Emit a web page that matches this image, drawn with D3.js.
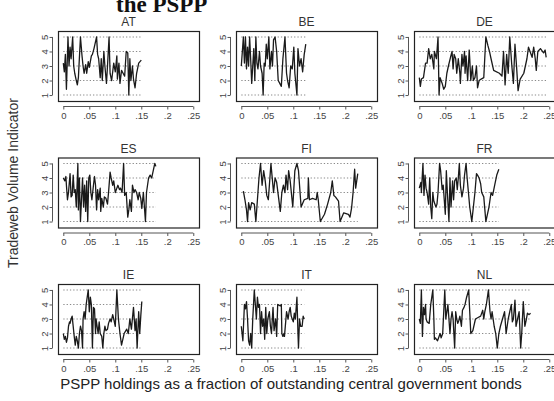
<!DOCTYPE html>
<html><head><meta charset="utf-8">
<script src="https://cdn.jsdelivr.net/npm/d3@7"></script>
<style>body{margin:0;background:#fff} svg{display:block}</style>
</head><body>
<svg id="c" width="554" height="401"></svg>
<script>
const countries = ["AT","BE","DE","ES","FI","FR","IE","IT","NL"];
const xTicks = [0,0.05,0.1,0.15,0.2,0.25];
const xTickLabels = ["0",".05",".1",".15",".2",".25"];
const yTicks = [1,2,3,4,5];
const yTickLabels = ["1","2","3","4","5"];

const atX=[0.000,0.002,0.004,0.006,0.009,0.011,0.013,0.015,0.018,0.020,0.022,0.025,0.027,0.029,0.033,0.036,0.038,0.040,0.043,0.045,0.048,0.050,0.054,0.056,0.059,0.064,0.066,0.068,0.071,0.073,0.075,0.078,0.080,0.083,0.085,0.088,0.090,0.093,0.097,0.100,0.103,0.104,0.107,0.109,0.112,0.115,0.118,0.121,0.124,0.126,0.128,0.130,0.133,0.135,0.138,0.141,0.145,0.150];
const atY=[3.2,2.6,3.8,1.4,5.0,3.0,4.3,3.5,5.0,3.0,2.5,2.0,1.7,2.2,5.0,3.7,3.0,2.5,3.1,2.5,3.3,2.9,3.7,3.8,4.2,5.0,3.8,3.5,2.2,3.5,2.0,4.0,3.0,1.8,3.0,5.0,2.5,2.0,3.2,2.6,3.7,2.1,3.2,1.8,2.7,2.5,2.3,4.0,3.9,1.0,3.5,2.0,3.0,2.1,1.5,2.5,3.2,3.4];

const beX=[0.000,0.002,0.004,0.006,0.008,0.010,0.012,0.014,0.016,0.018,0.020,0.022,0.024,0.026,0.028,0.030,0.032,0.035,0.037,0.040,0.042,0.044,0.046,0.048,0.050,0.053,0.055,0.058,0.060,0.062,0.065,0.068,0.071,0.074,0.077,0.080,0.084,0.087,0.089,0.092,0.095,0.098,0.101,0.103,0.107,0.109,0.112,0.115,0.118,0.121,0.124];
const beY=[3.0,4.0,5.0,3.2,5.0,2.8,4.3,3.0,5.0,3.5,1.8,3.0,4.2,2.0,5.0,3.2,2.8,4.0,3.0,2.5,1.0,3.2,3.0,4.5,3.5,5.0,2.8,4.0,3.0,4.8,5.0,4.0,2.0,1.8,1.6,3.5,5.0,2.5,2.0,1.5,3.0,2.8,4.3,2.5,1.0,4.2,3.0,3.5,2.6,3.8,4.5];

const deX=[0.000,0.002,0.004,0.008,0.012,0.015,0.018,0.021,0.024,0.028,0.029,0.033,0.036,0.038,0.040,0.044,0.047,0.050,0.053,0.056,0.060,0.063,0.065,0.067,0.070,0.072,0.075,0.078,0.079,0.082,0.084,0.087,0.088,0.090,0.093,0.096,0.097,0.099,0.102,0.104,0.107,0.110,0.112,0.115,0.119,0.124,0.128,0.132,0.135,0.138,0.143,0.154,0.159,0.162,0.165,0.168,0.171,0.174,0.178,0.181,0.184,0.187,0.190,0.194,0.201,0.204,0.207,0.210,0.213,0.217,0.220,0.223,0.225,0.228,0.233,0.239,0.242,0.244];
const deY=[2.2,1.6,2.1,2.2,3.2,3.2,4.2,3.5,3.8,2.8,4.0,3.5,5.0,1.0,2.2,1.8,1.4,1.6,2.5,3.0,3.6,4.0,2.8,3.8,3.5,2.5,3.5,2.5,1.8,3.8,3.0,4.0,2.5,3.7,2.0,4.1,3.5,2.0,3.0,2.0,2.2,3.0,1.5,2.0,2.1,2.2,5.0,4.4,4.0,3.5,2.7,2.5,2.3,4.0,1.7,3.8,2.5,5.0,3.0,1.8,4.5,3.0,1.3,2.1,2.5,3.0,3.5,4.3,4.0,3.6,4.3,3.5,2.7,4.0,4.2,3.9,4.1,3.6];

const esX=[0.000,0.003,0.005,0.006,0.008,0.010,0.013,0.015,0.017,0.019,0.021,0.023,0.025,0.028,0.029,0.031,0.033,0.035,0.037,0.039,0.041,0.043,0.045,0.047,0.049,0.051,0.053,0.055,0.058,0.060,0.062,0.064,0.066,0.068,0.071,0.072,0.074,0.077,0.079,0.082,0.085,0.087,0.090,0.092,0.095,0.097,0.100,0.103,0.105,0.108,0.110,0.113,0.116,0.118,0.121,0.124,0.126,0.128,0.131,0.133,0.136,0.138,0.141,0.144,0.146,0.149,0.151,0.154,0.158,0.160,0.164,0.167,0.170,0.173,0.176,0.178];
const esY=[4.0,3.8,4.1,3.5,2.5,3.0,4.3,2.7,2.8,4.2,3.0,3.2,2.0,5.0,1.8,4.0,1.0,2.5,4.0,2.0,3.5,1.7,3.8,1.0,4.0,4.2,3.0,2.5,3.5,4.1,3.5,1.8,3.2,2.5,3.3,1.7,2.6,2.0,2.7,2.6,2.2,3.0,4.4,4.0,3.5,3.8,3.0,3.3,3.5,3.2,3.3,3.0,5.0,2.8,3.0,1.3,1.8,2.5,1.7,3.5,3.0,3.2,3.0,2.5,3.0,2.6,1.9,3.0,1.0,3.0,4.0,4.2,4.0,4.5,5.0,4.8];

const fiX=[0.004,0.007,0.010,0.012,0.014,0.017,0.020,0.025,0.028,0.031,0.034,0.037,0.040,0.043,0.046,0.049,0.052,0.055,0.057,0.059,0.062,0.065,0.068,0.075,0.078,0.081,0.084,0.086,0.089,0.091,0.094,0.099,0.103,0.107,0.110,0.115,0.121,0.128,0.129,0.131,0.137,0.144,0.146,0.148,0.152,0.160,0.166,0.172,0.175,0.178,0.181,0.187,0.190,0.197,0.206,0.209,0.212,0.215,0.218,0.220,0.222,0.224];
const fiY=[3.1,2.5,1.8,1.0,2.3,1.8,2.3,2.2,1.0,2.5,4.0,5.0,3.5,4.5,3.8,2.8,2.5,4.0,5.0,4.2,3.0,4.0,3.7,1.7,3.0,3.5,3.0,4.2,3.2,4.5,3.8,2.0,4.5,5.0,4.5,2.0,2.5,2.6,4.0,2.5,2.6,2.5,3.0,2.5,1.0,1.5,2.2,3.0,3.8,2.8,2.7,2.4,1.0,1.6,1.5,1.3,1.9,3.0,4.6,3.3,3.8,4.3];

const frX=[0.000,0.003,0.004,0.007,0.009,0.011,0.013,0.015,0.018,0.020,0.022,0.024,0.026,0.028,0.032,0.034,0.036,0.039,0.041,0.044,0.046,0.048,0.050,0.052,0.054,0.057,0.059,0.061,0.064,0.066,0.068,0.071,0.073,0.075,0.077,0.079,0.082,0.085,0.087,0.090,0.092,0.097,0.101,0.104,0.107,0.110,0.112,0.115,0.118,0.120,0.124,0.128,0.131,0.134,0.138,0.141,0.145,0.149,0.153];
const frY=[3.3,3.7,3.0,5.0,2.8,4.2,3.3,3.0,2.2,4.0,2.0,1.2,3.0,2.4,2.0,2.2,3.0,5.0,4.5,3.2,3.5,2.5,1.5,4.5,3.0,1.0,4.0,2.0,3.8,2.5,3.8,4.0,3.2,4.0,5.0,3.5,2.7,3.3,4.2,5.0,4.0,2.0,1.0,2.0,3.0,4.3,4.2,4.0,3.6,3.0,2.7,1.0,1.5,2.0,3.0,2.8,3.5,4.2,4.6];

const ieX=[0.000,0.002,0.004,0.006,0.008,0.010,0.012,0.013,0.015,0.017,0.019,0.021,0.023,0.025,0.027,0.029,0.031,0.033,0.035,0.037,0.038,0.040,0.042,0.044,0.046,0.048,0.050,0.052,0.054,0.056,0.058,0.060,0.062,0.063,0.065,0.067,0.069,0.071,0.074,0.076,0.078,0.080,0.082,0.085,0.087,0.090,0.092,0.095,0.097,0.100,0.103,0.106,0.109,0.112,0.117,0.122,0.125,0.128,0.131,0.135,0.138,0.140,0.142,0.145,0.147,0.149,0.151];
const ieY=[2.0,1.6,1.8,1.4,1.7,2.5,2.8,2.7,3.0,3.2,2.5,1.8,1.2,1.8,1.5,1.0,2.0,2.5,2.2,1.0,3.0,3.5,3.0,4.0,4.5,5.0,3.5,4.5,4.0,1.0,3.8,3.7,2.0,3.0,2.5,2.0,2.8,2.0,1.8,1.0,2.0,2.5,2.2,2.3,2.7,3.0,2.8,3.3,3.0,2.5,5.0,3.0,2.0,1.2,2.0,2.3,2.0,3.0,2.3,3.8,2.2,3.0,1.0,3.5,2.0,3.2,4.2];

const itX=[0.000,0.003,0.006,0.008,0.010,0.012,0.014,0.016,0.018,0.020,0.022,0.025,0.027,0.029,0.031,0.033,0.035,0.037,0.039,0.041,0.043,0.045,0.047,0.049,0.051,0.054,0.056,0.058,0.061,0.063,0.066,0.068,0.070,0.075,0.077,0.078,0.080,0.082,0.083,0.087,0.090,0.092,0.094,0.096,0.100,0.102,0.104,0.107,0.109,0.110,0.112,0.114,0.117,0.119,0.121];
const itY=[2.5,1.5,4.0,3.7,4.2,3.0,1.5,1.2,2.0,1.0,3.0,5.0,4.0,3.0,4.5,3.8,4.0,2.0,3.5,2.5,3.0,1.6,3.8,2.0,3.0,3.5,2.5,2.0,3.8,2.2,3.0,1.8,4.0,3.9,4.0,2.0,1.8,2.0,1.8,3.5,3.0,3.5,3.8,3.2,2.8,3.4,3.0,4.5,2.0,1.0,3.0,2.5,2.5,3.2,3.0];

const nlX=[0.000,0.002,0.004,0.006,0.008,0.010,0.012,0.013,0.015,0.019,0.022,0.026,0.028,0.029,0.031,0.035,0.038,0.040,0.042,0.045,0.049,0.051,0.053,0.055,0.057,0.059,0.061,0.063,0.065,0.068,0.070,0.072,0.074,0.076,0.078,0.081,0.083,0.086,0.088,0.091,0.095,0.099,0.103,0.108,0.113,0.118,0.122,0.124,0.126,0.129,0.133,0.136,0.138,0.140,0.144,0.147,0.150,0.153,0.156,0.160,0.164,0.167,0.171,0.174,0.177,0.179,0.181,0.184,0.186,0.189,0.192,0.195,0.197,0.200,0.203,0.206,0.208,0.211,0.214];
const nlY=[3.0,2.7,5.0,1.8,3.8,3.3,4.0,3.0,2.8,2.7,4.0,5.0,3.0,1.6,1.7,1.5,1.8,2.0,1.7,2.0,5.0,3.0,3.5,4.0,3.0,2.0,3.0,3.5,3.0,1.0,3.5,3.0,2.7,2.9,3.2,2.5,3.6,3.8,4.0,4.5,5.0,2.0,2.2,3.0,3.1,3.2,3.6,3.0,3.5,4.0,5.0,3.5,3.0,3.5,2.5,2.0,1.0,2.0,2.5,3.0,3.5,2.0,3.0,3.5,4.0,2.8,3.0,4.3,2.5,3.0,3.5,1.0,2.0,4.2,2.5,3.0,3.4,3.3,3.4];

const seriesX = {AT:atX,BE:beX,DE:deX,ES:esX,FI:fiX,FR:frX,IE:ieX,IT:itX,NL:nlX};
const seriesY = {AT:atY,BE:beY,DE:deY,ES:esY,FI:fiY,FR:frY,IE:ieY,IT:itY,NL:nlY};

const svg = d3.select("#c");
const font = "'Liberation Sans', Arial, sans-serif";
const colLeft=[58,236,414], rowTop=[31,157.5,284], W=141, H=70;

countries.forEach((c,i)=>{
  const left=colLeft[i%3], top=rowTop[Math.floor(i/3)];
  const x=d3.scaleLinear().domain([-0.0102,0.261]).range([left,left+W]);
  const y=d3.scaleLinear().domain([0.59,5.41]).range([top+H,top]);
  const g=svg.append("g");
  const xs=seriesX[c], ys=seriesY[c];
  const n=Math.min(xs.length, ys.length);
  const pts=d3.range(n).map(k=>[xs[k],ys[k]]);
  const xmax=d3.max(pts,p=>p[0]);
  g.selectAll("line.grid").data(yTicks).join("line").attr("class","grid")
    .attr("x1",x(0)).attr("x2",x(xmax)).attr("y1",d=>y(d)).attr("y2",d=>y(d))
    .attr("stroke","#8a8a8a").attr("stroke-width",1.1).attr("stroke-dasharray","1.3,2");
  g.append("path").datum(pts)
    .attr("d",d3.line().x(p=>x(p[0])).y(p=>y(p[1])))
    .attr("fill","none").attr("stroke","#1a1a1a").attr("stroke-width",1.3).attr("stroke-linejoin","round");
  g.append("rect").attr("x",left+0.5).attr("y",top+0.5).attr("width",W).attr("height",H)
    .attr("fill","none").attr("stroke","#222").attr("stroke-width",1.2);
  g.append("text").attr("x",left+W/2).attr("y",top-5).attr("text-anchor","middle")
    .attr("font-family",font).attr("font-size",12).attr("fill","#333").text(c);
  const xa=g.append("g").attr("transform",`translate(0,${top+H+5.5})`)
    .call(d3.axisBottom(x).tickValues(xTicks).tickFormat((d,k)=>xTickLabels[k]).tickSize(3).tickPadding(2.5));
  xa.select(".domain").remove();
  xa.append("line").attr("x1",x(0)).attr("x2",x(0.25)).attr("stroke","#555");
  xa.selectAll(".tick line").attr("stroke","#555");
  xa.selectAll("text").attr("font-family",font).attr("font-size",9.5).attr("fill","#444");
  const ya=g.append("g").attr("transform",`translate(${left-5.5},0)`)
    .call(d3.axisLeft(y).tickValues(yTicks).tickFormat((d,k)=>yTickLabels[k]).tickSize(3));
  ya.select(".domain").remove();
  ya.append("line").attr("y1",y(1)).attr("y2",y(5)).attr("stroke","#555");
  ya.selectAll(".tick line").attr("stroke","#555");
  ya.selectAll("text").attr("x",null).attr("dy",null).attr("text-anchor","middle")
    .attr("transform","translate(-5,0) rotate(-90)")
    .attr("font-family",font).attr("font-size",9.5).attr("fill","#444");
});

svg.append("text").attr("x",116).attr("y",12)
  .attr("font-family","'Liberation Serif','Times New Roman',serif").attr("font-weight","bold")
  .attr("font-size",23).attr("fill","#111").text("the PSPP");

svg.append("text").attr("transform","translate(18,183) rotate(-90)").attr("text-anchor","middle")
  .attr("font-family",font).attr("font-size",14).attr("fill","#333").text("Tradeweb Volume Indicator");

svg.append("text").attr("x",291).attr("y",389).attr("text-anchor","middle")
  .attr("font-family",font).attr("font-size",15).attr("fill","#222")
  .text("PSPP holdings as a fraction of outstanding central government bonds");
</script>
</body></html>
